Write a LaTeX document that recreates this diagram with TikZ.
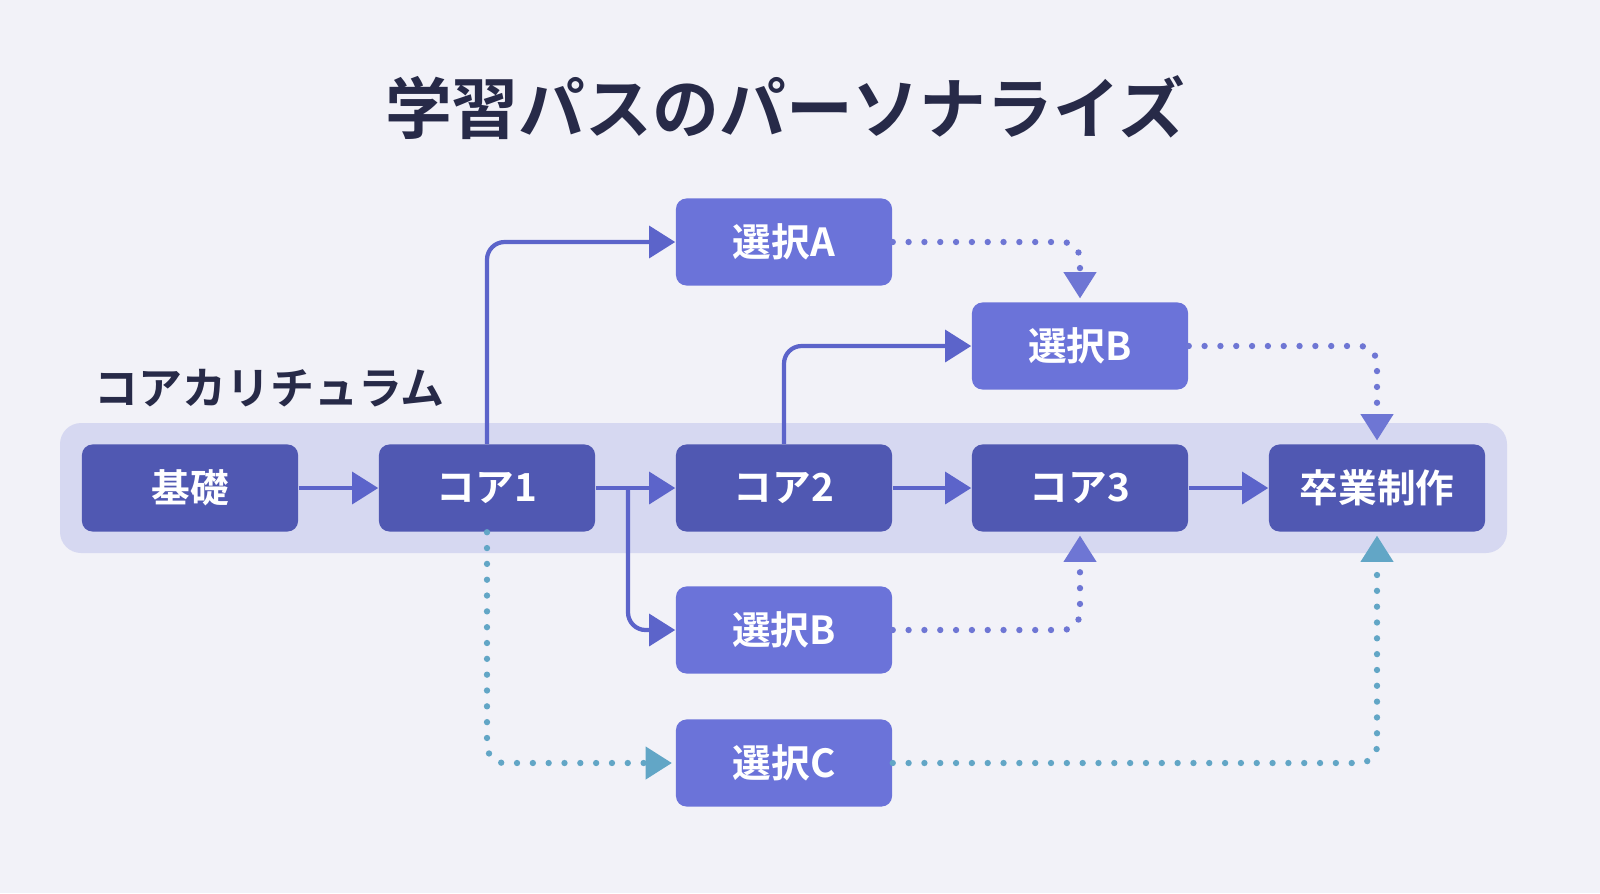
\documentclass[tikz,border=0pt]{standalone}
\usepackage{fontspec}
\newfontfamily\cjk{Noto Sans CJK JP}[BoldFont={* Bold}]
\usetikzlibrary{arrows.meta}
\definecolor{bg}{HTML}{F2F2F8}
\definecolor{band}{HTML}{D6D8F1}
\definecolor{dark}{HTML}{5058B2}
\definecolor{light}{HTML}{6B73D9}
\definecolor{solid}{HTML}{5C64CA}
\definecolor{dotp}{HTML}{6E76D4}
\definecolor{dott}{HTML}{62A6C6}
\definecolor{ttl}{HTML}{272A48}
\tikzset{
 box/.style={rounded corners=3pt,minimum width=2.16cm,minimum height=0.87cm,text=white,font=\cjk\bfseries\fontsize{11}{13}\selectfont,inner sep=0pt},
 dk/.style={box,fill=dark},
 lt/.style={box,fill=light},
 sol/.style={draw=solid,line width=1.2pt,rounded corners=5pt,-{Triangle[length=7.4pt,width=9pt,color=solid,fill=solid]}},
 dotbase/.style={line width=1.8pt,line cap=round,dash pattern=on 0pt off 4.5pt,rounded corners=5pt,shorten >=1pt},
 dp/.style={dotbase,draw=dotp,-{Triangle[length=7.4pt,width=9.4pt,color=dotp,fill=dotp,line width=0pt,sep=0pt]}},
 dt/.style={dotbase,draw=dott,-{Triangle[length=7.4pt,width=9.4pt,color=dott,fill=dott,line width=0pt]}},
}
\begin{document}
\begin{tikzpicture}[x=0.01cm,y=-0.01cm]
\useasboundingbox (0,0) rectangle (1600,893);
\fill[bg] (0,0) rectangle (1600,893);
\fill[band,rounded corners=6pt] (60,423) rectangle (1507,553);
\node[text=ttl,font=\cjk\bfseries\fontsize{19}{22}\selectfont] (title) at (785,108) {学習パスのパーソナライズ};
\node[text=ttl,font=\cjk\bfseries\fontsize{12.5}{15}\selectfont,anchor=west] (lbl) at (82,388) {コアカリチュラム};
\node[dk] (k) at (190,488) {基礎};
\node[dk] (c1) at (487,488) {コア1};
\node[dk] (c2) at (784,488) {コア2};
\node[dk] (c3) at (1080,488) {コア3};
\node[dk] (g) at (1377,488) {卒業制作};
\node[lt] (sa) at (784,242) {選択A};
\node[lt] (sb1) at (1080,346) {選択B};
\node[lt] (sb2) at (784,630) {選択B};
\node[lt] (sc) at (784,763) {選択C};
\coordinate (p1) at (628,488);
\draw[sol] (k) -- (c1);
\draw[sol] (c1) -- (c2);
\draw[sol] (c2) -- (c3);
\draw[sol] (c3) -- (g);
\draw[sol] (p1) -- (p1 |- sb2) -- (sb2.west);
\draw[sol] (c1.north) -- (c1.north |- sa) -- (sa.west);
\draw[sol] (c2.north) -- (c2.north |- sb1) -- (sb1.west);
\draw[dp] (sa.east) -- (sb1.north |- sa) -- (sb1.north);
\draw[dp] (sb1.east) -- (g.north |- sb1) -- (g.north);
\draw[dp] (sb2.east) -- (c3.south |- sb2) -- (c3.south);
\draw[dt] (c1.south) -- (c1.south |- sc) -- (sc.west);
\draw[dt] (sc.east) -- (g.south |- sc) -- (g.south);
\end{tikzpicture}
\end{document}
